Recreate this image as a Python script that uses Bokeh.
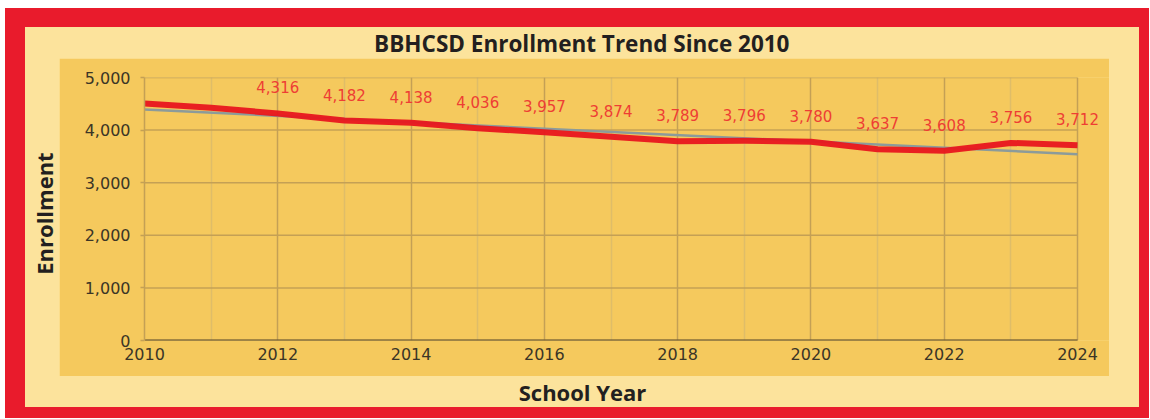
import numpy as np
from bokeh.plotting import figure
from bokeh.layouts import column, row
from bokeh.models import (ColumnDataSource, Label, LabelSet, FixedTicker,
                          NumeralTickFormatter, Range1d, Spacer)
from bokeh.core.properties import value
from bokeh.embed import file_html
from bokeh.resources import INLINE

# ---- data ----
years = [2010, 2011, 2012, 2013, 2014, 2015, 2016, 2017, 2018, 2019, 2020, 2021, 2022, 2023, 2024]
enrollment = [4505, 4425, 4316, 4182, 4138, 4036, 3957, 3874, 3789, 3796, 3780, 3637, 3608, 3756, 3712]
labeled_from = 2012
x_major_ticks = [2010, 2012, 2014, 2016, 2018, 2020, 2022, 2024]
x_minor_ticks = [2011, 2013, 2015, 2017, 2019, 2021, 2023]
y_ticks = [0, 1000, 2000, 3000, 4000, 5000]
chart_title = "BBHCSD Enrollment Trend Since 2010"
x_title = "School Year"
y_title = "Enrollment"

# ---- styles ----
RED = "#e91b2c"
LIGHT = "#fce39c"
GOLD = "#f5c95d"
GRID_MAJOR = "#c4a055"
GRID_MINOR = "#dfbd68"
LINE_RED = "#e8161d"
TREND = "#8c9b9a"
LABEL_RED = "#ee3e34"
TICK_TXT = "#3b3526"
HEAD_TXT = "#231f20"
HEAD_FONT = "Open Sans"

INNER_W = 1114
LEFT_GAP, RIGHT_GAP = 34, 30
GOLD_W = INNER_W - LEFT_GAP - RIGHT_GAP        # 1050
TITLE_H, MAIN_H, XLAB_H = 31, 318, 31
FRAME_L, FRAME_T, FRAME_B = 85, 19, 36
DATA_W = 933  # pixel width of the year span

x_end = years[-1] + (GOLD_W - FRAME_L - DATA_W) * (years[-1] - years[0]) / DATA_W

p = figure(width=GOLD_W, height=MAIN_H, x_range=Range1d(years[0], x_end), y_range=Range1d(0, 5000),
           output_backend="svg", toolbar_location=None, title=None,
           min_border_left=FRAME_L, min_border_right=0, min_border_top=FRAME_T, min_border_bottom=FRAME_B,
           border_fill_color=GOLD, background_fill_color=GOLD, outline_line_color=None)

p.xaxis.ticker = FixedTicker(ticks=x_major_ticks, minor_ticks=x_minor_ticks)
p.yaxis.ticker = FixedTicker(ticks=y_ticks)
p.yaxis.formatter = NumeralTickFormatter(format="0,0")

for ax in (p.xaxis[0], p.yaxis[0]):
    ax.major_label_text_font = "DejaVu Sans"
    ax.major_label_text_font_size = "16px"
    ax.major_label_text_color = TICK_TXT
    ax.minor_tick_line_color = None
    ax.major_tick_in = 0

p.xaxis.major_tick_out = 0
p.xaxis.major_label_standoff = 3
p.xaxis.axis_line_color = None

p.yaxis.major_tick_out = 4
p.yaxis.major_label_standoff = 10
p.yaxis.major_tick_line_color = GRID_MAJOR
p.yaxis.major_tick_line_width = 1.5
p.yaxis.axis_line_color = GRID_MAJOR
p.yaxis.axis_line_width = 1.5

p.xgrid.ticker = FixedTicker(ticks=x_major_ticks, minor_ticks=x_minor_ticks)
p.xgrid.grid_line_color = GRID_MAJOR
p.xgrid.grid_line_width = 1.5
p.xgrid.minor_grid_line_color = GRID_MINOR
p.xgrid.minor_grid_line_width = 1.5
p.ygrid.grid_line_color = None

# horizontal grid lines limited to the year span, and the base line
n = len(y_ticks)
p.segment(x0=[years[0]] * n, x1=[years[-1]] * n, y0=y_ticks, y1=y_ticks,
          line_color=GRID_MAJOR, line_width=1.5)
p.segment(x0=[years[0]], x1=[years[-1]], y0=[0], y1=[0], line_color="#5e4e2c", line_width=2)

# trend line (least squares fit of the enrollment series)
coef = np.polyfit(years, enrollment, 1)
trend = list(np.polyval(coef, [years[0], years[-1]]))
p.line([years[0], years[-1]], trend, line_color=TREND, line_width=2.5)

p.line(years, enrollment, line_color=LINE_RED, line_width=6, line_alpha=0.95, line_join="round")

lab_x = [y for y in years if y >= labeled_from]
lab_y = [v for y, v in zip(years, enrollment) if y >= labeled_from]
lab_t = [f"{v:,}" for v in lab_y]
src = ColumnDataSource(dict(x=lab_x, y=lab_y, t=lab_t))
p.add_layout(LabelSet(x="x", y="y", text="t", source=src, y_offset=26,
                      text_align="center", text_baseline="middle",
                      text_font=value("DejaVu Sans"), text_font_size="15px",
                      text_color=LABEL_RED))


def text_fig(w, h, x, y, text, size, angle=0.0):
    f = figure(width=w, height=h, x_range=Range1d(0, w), y_range=Range1d(0, h),
               output_backend="svg", toolbar_location=None, title=None,
               x_axis_location=None, y_axis_location=None,
               min_border=0, min_border_left=0, min_border_right=0,
               min_border_top=0, min_border_bottom=0,
               border_fill_color=LIGHT, background_fill_color=LIGHT, outline_line_color=None)
    f.grid.visible = False
    f.add_layout(Label(x=x, y=y, text=text, angle=angle,
                       text_align="center", text_baseline="middle",
                       text_font=HEAD_FONT, text_font_size=size, text_font_style="bold",
                       text_color=HEAD_TXT))
    return f


title_fig = text_fig(INNER_W, TITLE_H, 556.3, 15.5, chart_title, "22.5px")
ylab_fig = text_fig(LEFT_GAP, MAIN_H, 18.4, 153.5, y_title, "22px", angle=np.pi / 2)
xlab_fig = text_fig(INNER_W, XLAB_H, 557, 15.5, x_title, "22px")

inner = column(title_fig,
               row(ylab_fig, p, Spacer(width=RIGHT_GAP, height=MAIN_H), spacing=0),
               xlab_fig, spacing=0,
               styles={"background-color": LIGHT})
red_box = column(inner, spacing=0,
                 styles={"background-color": RED, "padding": "19px 10px 11px 20px"})
page = column(red_box, spacing=0, styles={"padding": "8px 0px 0px 5px"})

open("out.html", "w").write(file_html(page, INLINE))
